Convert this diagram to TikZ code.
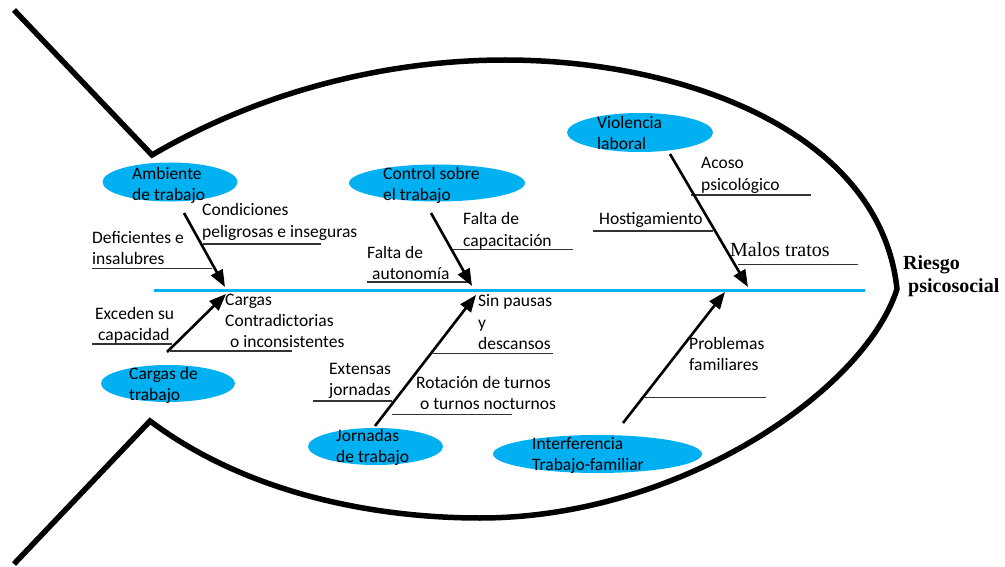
\documentclass[tikz,border=0pt]{standalone}
\usepackage{fontspec}
\setmainfont{Carlito}
\newfontfamily\tnr{Liberation Serif}
\usetikzlibrary{arrows.meta,shapes.geometric}
\definecolor{fishblue}{HTML}{00B0F0}
\newcommand\ml[1]{\begin{tabular}[t]{@{}l@{}}#1\end{tabular}}
\begin{document}
\begin{tikzpicture}[x=1pt,y=-1pt,
  outline/.style={line width=5.5pt,black,line join=miter,miter limit=20},
  spine/.style={line width=3pt,fishblue},
  cause/.style={ellipse,fill=fishblue,draw=none,inner sep=0pt},
  lbl/.style={anchor=base west,inner sep=0pt,text=black,font={\fontsize{17.5}{21.5}\selectfont}},
  sub/.style={line width=1.6pt,black!80},
  bone/.style={line width=2.6pt,black,-{Triangle[length=17pt,width=13pt]}}]
\useasboundingbox[fill=white] (0,0) rectangle (1005,567);

% fish outline
\draw[outline] (14,10) -- (152,155)
  .. controls (272,85) and (400,60) .. (505,60)
  .. controls (680,60) and (880,130) .. (897,289)
  .. controls (865,390) and (680,518) .. (480,518)
  .. controls (380,518) and (250,496) .. (150,421) -- (14,564);

% spine
\coordinate (spL) at (154,290);
\coordinate (spR) at (865,290);
\draw[spine] (spL) -- (spR);

% cause ellipses
\node[cause,minimum width=135pt,minimum height=39pt] (amb) at (170,182) {};
\node[cause,minimum width=176pt,minimum height=37pt] (ctrl) at (437,183) {};
\node[cause,minimum width=146pt,minimum height=39pt] (viol) at (640,132.5) {};
\node[cause,minimum width=134pt,minimum height=37pt] (carg) at (168,383.5) {};
\node[cause,minimum width=135pt,minimum height=37pt] (jorn) at (375.5,446.5) {};
\node[cause,minimum width=209pt,minimum height=38pt] (inter) at (597.5,454) {};

\node[lbl] (ambT) at (132,179.3) {\ml{Ambiente\\de trabajo}};
\node[lbl] (ctrlT) at (383,179.3) {\ml{Control sobre\\el trabajo}};
\node[lbl] (violT) at (597,128.3) {\ml{Violencia\\laboral}};
\node[lbl] (cargT) at (129,379) {\ml{Cargas de\\trabajo}};
\node[lbl] (jornT) at (336,441) {\ml{Jornadas\\de trabajo}};
\node[lbl] (interT) at (532,449.3) {\ml{Interferencia\\Trabajo-familiar}};

% sub-cause texts
\node[lbl] (cond) at (202,215.7) {\ml{Condiciones\\peligrosas e inseguras}};
\node[lbl] (defi) at (92,243.3) {\ml{Deficientes e\\insalubres}};
\node[lbl] (fauto) at (367,258.3) {\ml{Falta de\\\hspace*{5pt}autonomía}};
\node[lbl] (fcap) at (463,225) {\ml{Falta de\\capacitación}};
\node[lbl] (acoso) at (701,169) {\ml{Acoso\\psicológico}};
\node[lbl] (host) at (599,225) {Hostigamiento};
\node[lbl,font={\tnr\fontsize{20}{24}\selectfont}] (malos) at (730,256) {Malos tratos};
\node[lbl] (exced) at (95,319) {\ml{Exceden su\\\hspace*{3pt}capacidad}};
\node[lbl] (contra) at (225,305) {\ml{Cargas\\Contradictorias\\\hspace*{5pt}o inconsistentes}};
\node[lbl] (sinp) at (478,306.7) {\ml{Sin pausas\\y\\descansos}};
\node[lbl] (ext) at (329,374.3) {\ml{Extensas\\jornadas}};
\node[lbl] (rot) at (416,388.3) {\ml{Rotación de turnos\\\hspace*{4pt}o turnos nocturnos}};
\node[lbl] (prob) at (689,349.3) {\ml{Problemas\\familiares}};
\node[lbl,font={\tnr\bfseries\fontsize{20}{23.5}\selectfont}] (riesgo) at (903,269.3) {\ml{Riesgo\\\hspace*{5pt}psicosocial}};

% sub-cause lines
\coordinate (defiA) at (92,268.3);   \coordinate (defiB) at (212,268.3);
\coordinate (condA) at (203,244);    \coordinate (condB) at (321,244);
\coordinate (fautoA) at (367,281.7); \coordinate (fautoB) at (468,281.7);
\coordinate (fcapA) at (453,249.3);  \coordinate (fcapB) at (573,249.3);
\coordinate (acosoA) at (691,195);   \coordinate (acosoB) at (811,195);
\coordinate (hostA) at (593,231);    \coordinate (hostB) at (713,231);
\coordinate (malosA) at (738,264.3); \coordinate (malosB) at (858,264.3);
\coordinate (excedA) at (92,344);    \coordinate (excedB) at (172,344);
\coordinate (contraA) at (170,350.7);\coordinate (contraB) at (292,350.7);
\coordinate (sinpA) at (433,353.3);  \coordinate (sinpB) at (553,353.3);
\coordinate (extA) at (313,400.7);   \coordinate (extB) at (392,400.7);
\coordinate (rotA) at (392,414.3);   \coordinate (rotB) at (512,414.3);
\coordinate (probA) at (645,397.3);  \coordinate (probB) at (766,397.3);
\foreach \s in {defi,cond,fauto,fcap,acoso,host,malos,exced,contra,sinp,ext,rot,prob}
  \draw[sub] (\s A) -- (\s B);

% main bones
\coordinate (ambS) at (184,213);   \coordinate (ambE) at (225,287);
\coordinate (ctrlS) at (431,213);  \coordinate (ctrlE) at (472,286);
\coordinate (violS) at (670,154);  \coordinate (violE) at (748,287);
\coordinate (cargS) at (167,352);  \coordinate (cargE) at (226,294);
\coordinate (jornS) at (375,426);  \coordinate (jornE) at (476,295);
\coordinate (interS) at (623,423); \coordinate (interE) at (725,292);
\foreach \s in {amb,ctrl,viol,carg,jorn,inter}
  \draw[bone] (\s S) -- (\s E);
\end{tikzpicture}
\end{document}
